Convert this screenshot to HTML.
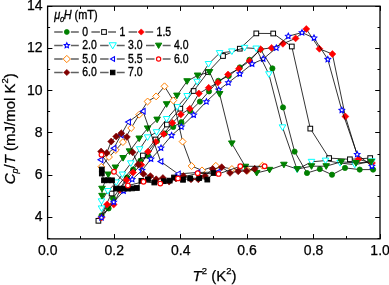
<!DOCTYPE html>
<html><head><meta charset="utf-8"><style>
html,body{margin:0;padding:0;background:#fff;}
body{width:389px;height:285px;overflow:hidden;position:relative;}
svg{position:absolute;left:0;top:0;will-change:transform;}
text{font-family:"Liberation Sans",sans-serif;fill:#000;stroke:#000;stroke-width:0.25px;}
.tk{font-size:14px;}
.ti{font-size:15px;}
.lg{font-size:11.9px;stroke-width:0.35px;}
</style></head><body>
<svg width="389" height="285" viewBox="0 0 389 285">
<rect width="389" height="285" fill="#fff"/>
<path d="M101.5 215.5L108.6 208.4L113.0 198.2L119.5 189.0L127.0 177.5L133.1 169.5L140.4 160.7L148.3 156.0L157.0 141.0L164.8 133.5L173.2 126.9L181.4 122.1L190.2 111.0L199.9 101.6L209.0 91.4L218.3 80.8L228.7 76.0L239.8 67.4L249.5 59.8L260.5 49.5L272.4 68.4L283.0 107.4L294.6 151.6L307.0 173.0L319.8 169.1L332.0 174.7L345.0 167.9L359.7 169.6L373.1 169.6" fill="none" stroke="#000" stroke-width="0.8"/>
<circle cx="101.50" cy="215.50" r="2.60" fill="#008000" stroke="#008000" stroke-width="0.8"/>
<circle cx="108.60" cy="208.40" r="2.60" fill="#008000" stroke="#008000" stroke-width="0.8"/>
<circle cx="113.00" cy="198.20" r="2.60" fill="#008000" stroke="#008000" stroke-width="0.8"/>
<circle cx="119.50" cy="189.00" r="2.60" fill="#008000" stroke="#008000" stroke-width="0.8"/>
<circle cx="127.00" cy="177.50" r="2.60" fill="#008000" stroke="#008000" stroke-width="0.8"/>
<circle cx="133.10" cy="169.50" r="2.60" fill="#008000" stroke="#008000" stroke-width="0.8"/>
<circle cx="140.40" cy="160.70" r="2.60" fill="#008000" stroke="#008000" stroke-width="0.8"/>
<circle cx="148.30" cy="156.00" r="2.60" fill="#008000" stroke="#008000" stroke-width="0.8"/>
<circle cx="157.00" cy="141.00" r="2.60" fill="#008000" stroke="#008000" stroke-width="0.8"/>
<circle cx="164.80" cy="133.50" r="2.60" fill="#008000" stroke="#008000" stroke-width="0.8"/>
<circle cx="173.20" cy="126.90" r="2.60" fill="#008000" stroke="#008000" stroke-width="0.8"/>
<circle cx="181.40" cy="122.10" r="2.60" fill="#008000" stroke="#008000" stroke-width="0.8"/>
<circle cx="190.20" cy="111.00" r="2.60" fill="#008000" stroke="#008000" stroke-width="0.8"/>
<circle cx="199.90" cy="101.60" r="2.60" fill="#008000" stroke="#008000" stroke-width="0.8"/>
<circle cx="209.00" cy="91.40" r="2.60" fill="#008000" stroke="#008000" stroke-width="0.8"/>
<circle cx="218.30" cy="80.80" r="2.60" fill="#008000" stroke="#008000" stroke-width="0.8"/>
<circle cx="228.70" cy="76.00" r="2.60" fill="#008000" stroke="#008000" stroke-width="0.8"/>
<circle cx="239.80" cy="67.40" r="2.60" fill="#008000" stroke="#008000" stroke-width="0.8"/>
<circle cx="249.50" cy="59.80" r="2.60" fill="#008000" stroke="#008000" stroke-width="0.8"/>
<circle cx="260.50" cy="49.50" r="2.60" fill="#008000" stroke="#008000" stroke-width="0.8"/>
<circle cx="272.40" cy="68.40" r="2.60" fill="#008000" stroke="#008000" stroke-width="0.8"/>
<circle cx="283.00" cy="107.40" r="2.60" fill="#008000" stroke="#008000" stroke-width="0.8"/>
<circle cx="294.60" cy="151.60" r="2.60" fill="#008000" stroke="#008000" stroke-width="0.8"/>
<circle cx="307.00" cy="173.00" r="2.60" fill="#008000" stroke="#008000" stroke-width="0.8"/>
<circle cx="319.80" cy="169.10" r="2.60" fill="#008000" stroke="#008000" stroke-width="0.8"/>
<circle cx="332.00" cy="174.70" r="2.60" fill="#008000" stroke="#008000" stroke-width="0.8"/>
<circle cx="345.00" cy="167.90" r="2.60" fill="#008000" stroke="#008000" stroke-width="0.8"/>
<circle cx="359.70" cy="169.60" r="2.60" fill="#008000" stroke="#008000" stroke-width="0.8"/>
<circle cx="373.10" cy="169.60" r="2.60" fill="#008000" stroke="#008000" stroke-width="0.8"/>
<path d="M98.4 220.8L111.6 193.5L142.9 155.5L155.5 139.5L166.9 124.5L180.3 108.7L193.6 91.0L208.0 72.0L223.0 56.0L239.8 48.7L256.3 33.4L273.2 33.5L291.8 46.5L310.3 128.6L329.1 158.1L349.9 159.3L370.2 158.1" fill="none" stroke="#000" stroke-width="0.8"/>
<rect x="96.05" y="218.45" width="4.70" height="4.70" fill="#fff" stroke="#000" stroke-width="1"/>
<rect x="109.25" y="191.15" width="4.70" height="4.70" fill="#fff" stroke="#000" stroke-width="1"/>
<rect x="140.55" y="153.15" width="4.70" height="4.70" fill="#fff" stroke="#000" stroke-width="1"/>
<rect x="153.15" y="137.15" width="4.70" height="4.70" fill="#fff" stroke="#000" stroke-width="1"/>
<rect x="164.55" y="122.15" width="4.70" height="4.70" fill="#fff" stroke="#000" stroke-width="1"/>
<rect x="177.95" y="106.35" width="4.70" height="4.70" fill="#fff" stroke="#000" stroke-width="1"/>
<rect x="191.25" y="88.65" width="4.70" height="4.70" fill="#fff" stroke="#000" stroke-width="1"/>
<rect x="205.65" y="69.65" width="4.70" height="4.70" fill="#fff" stroke="#000" stroke-width="1"/>
<rect x="220.65" y="53.65" width="4.70" height="4.70" fill="#fff" stroke="#000" stroke-width="1"/>
<rect x="237.45" y="46.35" width="4.70" height="4.70" fill="#fff" stroke="#000" stroke-width="1"/>
<rect x="253.95" y="31.05" width="4.70" height="4.70" fill="#fff" stroke="#000" stroke-width="1"/>
<rect x="270.85" y="31.15" width="4.70" height="4.70" fill="#fff" stroke="#000" stroke-width="1"/>
<rect x="289.45" y="44.15" width="4.70" height="4.70" fill="#fff" stroke="#000" stroke-width="1"/>
<rect x="307.95" y="126.25" width="4.70" height="4.70" fill="#fff" stroke="#000" stroke-width="1"/>
<rect x="326.75" y="155.75" width="4.70" height="4.70" fill="#fff" stroke="#000" stroke-width="1"/>
<rect x="347.55" y="156.95" width="4.70" height="4.70" fill="#fff" stroke="#000" stroke-width="1"/>
<rect x="367.85" y="155.75" width="4.70" height="4.70" fill="#fff" stroke="#000" stroke-width="1"/>
<path d="M101.5 217.6L107.1 204.5L113.7 204.5L120.0 190.0L126.6 180.0L133.1 172.5L141.3 164.8L148.0 151.6L155.8 141.9L163.7 134.0L172.4 122.9L180.8 114.5L189.8 108.7L198.9 93.5L208.7 87.8L217.8 82.6L228.0 74.5L238.9 68.8L249.5 61.0L260.5 49.2L271.6 47.9L282.9 43.8L295.6 38.4L306.3 29.0L319.4 48.8L332.4 54.0L345.4 116.5L358.5 159.3L372.0 163.0" fill="none" stroke="#000" stroke-width="0.8"/>
<path d="M101.50 214.15L104.95 217.60L101.50 221.05L98.05 217.60Z" fill="#ff0000" stroke="#ff0000" stroke-width="0.6"/>
<path d="M107.10 201.05L110.55 204.50L107.10 207.95L103.65 204.50Z" fill="#ff0000" stroke="#ff0000" stroke-width="0.6"/>
<path d="M113.70 201.05L117.15 204.50L113.70 207.95L110.25 204.50Z" fill="#ff0000" stroke="#ff0000" stroke-width="0.6"/>
<path d="M120.00 186.55L123.45 190.00L120.00 193.45L116.55 190.00Z" fill="#ff0000" stroke="#ff0000" stroke-width="0.6"/>
<path d="M126.60 176.55L130.05 180.00L126.60 183.45L123.15 180.00Z" fill="#ff0000" stroke="#ff0000" stroke-width="0.6"/>
<path d="M133.10 169.05L136.55 172.50L133.10 175.95L129.65 172.50Z" fill="#ff0000" stroke="#ff0000" stroke-width="0.6"/>
<path d="M141.30 161.35L144.75 164.80L141.30 168.25L137.85 164.80Z" fill="#ff0000" stroke="#ff0000" stroke-width="0.6"/>
<path d="M148.00 148.15L151.45 151.60L148.00 155.05L144.55 151.60Z" fill="#ff0000" stroke="#ff0000" stroke-width="0.6"/>
<path d="M155.80 138.45L159.25 141.90L155.80 145.35L152.35 141.90Z" fill="#ff0000" stroke="#ff0000" stroke-width="0.6"/>
<path d="M163.70 130.55L167.15 134.00L163.70 137.45L160.25 134.00Z" fill="#ff0000" stroke="#ff0000" stroke-width="0.6"/>
<path d="M172.40 119.45L175.85 122.90L172.40 126.35L168.95 122.90Z" fill="#ff0000" stroke="#ff0000" stroke-width="0.6"/>
<path d="M180.80 111.05L184.25 114.50L180.80 117.95L177.35 114.50Z" fill="#ff0000" stroke="#ff0000" stroke-width="0.6"/>
<path d="M189.80 105.25L193.25 108.70L189.80 112.15L186.35 108.70Z" fill="#ff0000" stroke="#ff0000" stroke-width="0.6"/>
<path d="M198.90 90.05L202.35 93.50L198.90 96.95L195.45 93.50Z" fill="#ff0000" stroke="#ff0000" stroke-width="0.6"/>
<path d="M208.70 84.35L212.15 87.80L208.70 91.25L205.25 87.80Z" fill="#ff0000" stroke="#ff0000" stroke-width="0.6"/>
<path d="M217.80 79.15L221.25 82.60L217.80 86.05L214.35 82.60Z" fill="#ff0000" stroke="#ff0000" stroke-width="0.6"/>
<path d="M228.00 71.05L231.45 74.50L228.00 77.95L224.55 74.50Z" fill="#ff0000" stroke="#ff0000" stroke-width="0.6"/>
<path d="M238.90 65.35L242.35 68.80L238.90 72.25L235.45 68.80Z" fill="#ff0000" stroke="#ff0000" stroke-width="0.6"/>
<path d="M249.50 57.55L252.95 61.00L249.50 64.45L246.05 61.00Z" fill="#ff0000" stroke="#ff0000" stroke-width="0.6"/>
<path d="M260.50 45.75L263.95 49.20L260.50 52.65L257.05 49.20Z" fill="#ff0000" stroke="#ff0000" stroke-width="0.6"/>
<path d="M271.60 44.45L275.05 47.90L271.60 51.35L268.15 47.90Z" fill="#ff0000" stroke="#ff0000" stroke-width="0.6"/>
<path d="M282.90 40.35L286.35 43.80L282.90 47.25L279.45 43.80Z" fill="#ff0000" stroke="#ff0000" stroke-width="0.6"/>
<path d="M295.60 34.95L299.05 38.40L295.60 41.85L292.15 38.40Z" fill="#ff0000" stroke="#ff0000" stroke-width="0.6"/>
<path d="M306.30 25.55L309.75 29.00L306.30 32.45L302.85 29.00Z" fill="#ff0000" stroke="#ff0000" stroke-width="0.6"/>
<path d="M319.40 45.35L322.85 48.80L319.40 52.25L315.95 48.80Z" fill="#ff0000" stroke="#ff0000" stroke-width="0.6"/>
<path d="M332.40 50.55L335.85 54.00L332.40 57.45L328.95 54.00Z" fill="#ff0000" stroke="#ff0000" stroke-width="0.6"/>
<path d="M345.40 113.05L348.85 116.50L345.40 119.95L341.95 116.50Z" fill="#ff0000" stroke="#ff0000" stroke-width="0.6"/>
<path d="M358.50 155.85L361.95 159.30L358.50 162.75L355.05 159.30Z" fill="#ff0000" stroke="#ff0000" stroke-width="0.6"/>
<path d="M372.00 159.55L375.45 163.00L372.00 166.45L368.55 163.00Z" fill="#ff0000" stroke="#ff0000" stroke-width="0.6"/>
<path d="M101.5 217.6L113.7 202.1L123.6 191.0L132.2 179.4L142.0 170.3L151.0 159.0L161.0 148.0L171.6 135.5L181.4 126.9L193.7 115.0L206.4 101.6L218.7 90.0L228.4 82.6L239.8 73.8L252.1 64.0L263.2 59.0L276.3 47.9L288.3 36.2L302.0 32.6L314.0 38.0L327.8 59.3L341.8 110.2L357.2 154.4L371.9 166.2" fill="none" stroke="#000" stroke-width="0.8"/>
<path d="M101.50 214.70L102.35 216.43L104.26 216.70L102.88 218.05L103.20 219.95L101.50 219.05L99.80 219.95L100.12 218.05L98.74 216.70L100.65 216.43Z" fill="#fff" stroke="#0000ff" stroke-width="1.1"/>
<path d="M113.70 199.20L114.55 200.93L116.46 201.20L115.08 202.55L115.40 204.45L113.70 203.55L112.00 204.45L112.32 202.55L110.94 201.20L112.85 200.93Z" fill="#fff" stroke="#0000ff" stroke-width="1.1"/>
<path d="M123.60 188.10L124.45 189.83L126.36 190.10L124.98 191.45L125.30 193.35L123.60 192.45L121.90 193.35L122.22 191.45L120.84 190.10L122.75 189.83Z" fill="#fff" stroke="#0000ff" stroke-width="1.1"/>
<path d="M132.20 176.50L133.05 178.23L134.96 178.50L133.58 179.85L133.90 181.75L132.20 180.85L130.50 181.75L130.82 179.85L129.44 178.50L131.35 178.23Z" fill="#fff" stroke="#0000ff" stroke-width="1.1"/>
<path d="M142.00 167.40L142.85 169.13L144.76 169.40L143.38 170.75L143.70 172.65L142.00 171.75L140.30 172.65L140.62 170.75L139.24 169.40L141.15 169.13Z" fill="#fff" stroke="#0000ff" stroke-width="1.1"/>
<path d="M151.00 156.10L151.85 157.83L153.76 158.10L152.38 159.45L152.70 161.35L151.00 160.45L149.30 161.35L149.62 159.45L148.24 158.10L150.15 157.83Z" fill="#fff" stroke="#0000ff" stroke-width="1.1"/>
<path d="M161.00 145.10L161.85 146.83L163.76 147.10L162.38 148.45L162.70 150.35L161.00 149.45L159.30 150.35L159.62 148.45L158.24 147.10L160.15 146.83Z" fill="#fff" stroke="#0000ff" stroke-width="1.1"/>
<path d="M171.60 132.60L172.45 134.33L174.36 134.60L172.98 135.95L173.30 137.85L171.60 136.95L169.90 137.85L170.22 135.95L168.84 134.60L170.75 134.33Z" fill="#fff" stroke="#0000ff" stroke-width="1.1"/>
<path d="M181.40 124.00L182.25 125.73L184.16 126.00L182.78 127.35L183.10 129.25L181.40 128.35L179.70 129.25L180.02 127.35L178.64 126.00L180.55 125.73Z" fill="#fff" stroke="#0000ff" stroke-width="1.1"/>
<path d="M193.70 112.10L194.55 113.83L196.46 114.10L195.08 115.45L195.40 117.35L193.70 116.45L192.00 117.35L192.32 115.45L190.94 114.10L192.85 113.83Z" fill="#fff" stroke="#0000ff" stroke-width="1.1"/>
<path d="M206.40 98.70L207.25 100.43L209.16 100.70L207.78 102.05L208.10 103.95L206.40 103.05L204.70 103.95L205.02 102.05L203.64 100.70L205.55 100.43Z" fill="#fff" stroke="#0000ff" stroke-width="1.1"/>
<path d="M218.70 87.10L219.55 88.83L221.46 89.10L220.08 90.45L220.40 92.35L218.70 91.45L217.00 92.35L217.32 90.45L215.94 89.10L217.85 88.83Z" fill="#fff" stroke="#0000ff" stroke-width="1.1"/>
<path d="M228.40 79.70L229.25 81.43L231.16 81.70L229.78 83.05L230.10 84.95L228.40 84.05L226.70 84.95L227.02 83.05L225.64 81.70L227.55 81.43Z" fill="#fff" stroke="#0000ff" stroke-width="1.1"/>
<path d="M239.80 70.90L240.65 72.63L242.56 72.90L241.18 74.25L241.50 76.15L239.80 75.25L238.10 76.15L238.42 74.25L237.04 72.90L238.95 72.63Z" fill="#fff" stroke="#0000ff" stroke-width="1.1"/>
<path d="M252.10 61.10L252.95 62.83L254.86 63.10L253.48 64.45L253.80 66.35L252.10 65.45L250.40 66.35L250.72 64.45L249.34 63.10L251.25 62.83Z" fill="#fff" stroke="#0000ff" stroke-width="1.1"/>
<path d="M263.20 56.10L264.05 57.83L265.96 58.10L264.58 59.45L264.90 61.35L263.20 60.45L261.50 61.35L261.82 59.45L260.44 58.10L262.35 57.83Z" fill="#fff" stroke="#0000ff" stroke-width="1.1"/>
<path d="M276.30 45.00L277.15 46.73L279.06 47.00L277.68 48.35L278.00 50.25L276.30 49.35L274.60 50.25L274.92 48.35L273.54 47.00L275.45 46.73Z" fill="#fff" stroke="#0000ff" stroke-width="1.1"/>
<path d="M288.30 33.30L289.15 35.03L291.06 35.30L289.68 36.65L290.00 38.55L288.30 37.65L286.60 38.55L286.92 36.65L285.54 35.30L287.45 35.03Z" fill="#fff" stroke="#0000ff" stroke-width="1.1"/>
<path d="M302.00 29.70L302.85 31.43L304.76 31.70L303.38 33.05L303.70 34.95L302.00 34.05L300.30 34.95L300.62 33.05L299.24 31.70L301.15 31.43Z" fill="#fff" stroke="#0000ff" stroke-width="1.1"/>
<path d="M314.00 35.10L314.85 36.83L316.76 37.10L315.38 38.45L315.70 40.35L314.00 39.45L312.30 40.35L312.62 38.45L311.24 37.10L313.15 36.83Z" fill="#fff" stroke="#0000ff" stroke-width="1.1"/>
<path d="M327.80 56.40L328.65 58.13L330.56 58.40L329.18 59.75L329.50 61.65L327.80 60.75L326.10 61.65L326.42 59.75L325.04 58.40L326.95 58.13Z" fill="#fff" stroke="#0000ff" stroke-width="1.1"/>
<path d="M341.80 107.30L342.65 109.03L344.56 109.30L343.18 110.65L343.50 112.55L341.80 111.65L340.10 112.55L340.42 110.65L339.04 109.30L340.95 109.03Z" fill="#fff" stroke="#0000ff" stroke-width="1.1"/>
<path d="M357.20 151.50L358.05 153.23L359.96 153.50L358.58 154.85L358.90 156.75L357.20 155.85L355.50 156.75L355.82 154.85L354.44 153.50L356.35 153.23Z" fill="#fff" stroke="#0000ff" stroke-width="1.1"/>
<path d="M371.90 163.30L372.75 165.03L374.66 165.30L373.28 166.65L373.60 168.55L371.90 167.65L370.20 168.55L370.52 166.65L369.14 165.30L371.05 165.03Z" fill="#fff" stroke="#0000ff" stroke-width="1.1"/>
<path d="M101.5 208.4L101.5 201.3L107.8 191.0L116.2 182.4L122.4 174.5L130.8 163.3L139.7 149.2L147.6 137.3L156.5 132.2L166.6 119.0L177.1 107.1L187.1 96.0L197.1 81.7L208.5 64.0L219.6 53.1L231.9 51.4L244.6 47.8L256.2 48.5L268.9 74.2L282.5 127.3L297.1 169.4L311.5 161.8L325.5 160.6L340.1 163.0L354.8 164.7L371.9 161.3" fill="none" stroke="#000" stroke-width="0.8"/>
<path d="M98.20 205.93L104.80 205.93L101.50 211.53Z" fill="#fff" stroke="#00ffff" stroke-width="1"/>
<path d="M98.20 198.83L104.80 198.83L101.50 204.44Z" fill="#fff" stroke="#00ffff" stroke-width="1"/>
<path d="M104.50 188.53L111.10 188.53L107.80 194.13Z" fill="#fff" stroke="#00ffff" stroke-width="1"/>
<path d="M112.90 179.93L119.50 179.93L116.20 185.53Z" fill="#fff" stroke="#00ffff" stroke-width="1"/>
<path d="M119.10 172.03L125.70 172.03L122.40 177.63Z" fill="#fff" stroke="#00ffff" stroke-width="1"/>
<path d="M127.50 160.83L134.10 160.83L130.80 166.44Z" fill="#fff" stroke="#00ffff" stroke-width="1"/>
<path d="M136.40 146.72L143.00 146.72L139.70 152.33Z" fill="#fff" stroke="#00ffff" stroke-width="1"/>
<path d="M144.30 134.83L150.90 134.83L147.60 140.44Z" fill="#fff" stroke="#00ffff" stroke-width="1"/>
<path d="M153.20 129.72L159.80 129.72L156.50 135.33Z" fill="#fff" stroke="#00ffff" stroke-width="1"/>
<path d="M163.30 116.53L169.90 116.53L166.60 122.14Z" fill="#fff" stroke="#00ffff" stroke-width="1"/>
<path d="M173.80 104.62L180.40 104.62L177.10 110.23Z" fill="#fff" stroke="#00ffff" stroke-width="1"/>
<path d="M183.80 93.53L190.40 93.53L187.10 99.14Z" fill="#fff" stroke="#00ffff" stroke-width="1"/>
<path d="M193.80 79.23L200.40 79.23L197.10 84.84Z" fill="#fff" stroke="#00ffff" stroke-width="1"/>
<path d="M205.20 61.52L211.80 61.52L208.50 67.14Z" fill="#fff" stroke="#00ffff" stroke-width="1"/>
<path d="M216.30 50.62L222.90 50.62L219.60 56.23Z" fill="#fff" stroke="#00ffff" stroke-width="1"/>
<path d="M228.60 48.92L235.20 48.92L231.90 54.53Z" fill="#fff" stroke="#00ffff" stroke-width="1"/>
<path d="M241.30 45.32L247.90 45.32L244.60 50.93Z" fill="#fff" stroke="#00ffff" stroke-width="1"/>
<path d="M252.90 46.02L259.50 46.02L256.20 51.63Z" fill="#fff" stroke="#00ffff" stroke-width="1"/>
<path d="M265.60 71.73L272.20 71.73L268.90 77.34Z" fill="#fff" stroke="#00ffff" stroke-width="1"/>
<path d="M279.20 124.83L285.80 124.83L282.50 130.44Z" fill="#fff" stroke="#00ffff" stroke-width="1"/>
<path d="M293.80 166.93L300.40 166.93L297.10 172.53Z" fill="#fff" stroke="#00ffff" stroke-width="1"/>
<path d="M308.20 159.33L314.80 159.33L311.50 164.94Z" fill="#fff" stroke="#00ffff" stroke-width="1"/>
<path d="M322.20 158.12L328.80 158.12L325.50 163.73Z" fill="#fff" stroke="#00ffff" stroke-width="1"/>
<path d="M336.80 160.53L343.40 160.53L340.10 166.13Z" fill="#fff" stroke="#00ffff" stroke-width="1"/>
<path d="M351.50 162.22L358.10 162.22L354.80 167.83Z" fill="#fff" stroke="#00ffff" stroke-width="1"/>
<path d="M368.60 158.83L375.20 158.83L371.90 164.44Z" fill="#fff" stroke="#00ffff" stroke-width="1"/>
<path d="M102.0 195.8L102.0 188.7L108.3 174.5L115.4 167.5L123.1 158.0L129.5 151.3L139.2 138.5L147.6 128.4L157.1 119.6L166.6 104.2L176.9 95.6L187.1 81.2L197.6 75.5L209.5 72.0L219.6 94.0L231.8 143.4L245.4 166.7L256.7 172.9L269.5 169.8L283.9 164.7L297.3 169.1L311.5 166.2L326.2 166.2L341.3 161.8L356.0 163.0L371.2 161.8" fill="none" stroke="#000" stroke-width="0.8"/>
<path d="M98.70 193.33L105.30 193.33L102.00 198.94Z" fill="#008000" stroke="#008000" stroke-width="1"/>
<path d="M98.70 186.22L105.30 186.22L102.00 191.83Z" fill="#008000" stroke="#008000" stroke-width="1"/>
<path d="M105.00 172.03L111.60 172.03L108.30 177.63Z" fill="#008000" stroke="#008000" stroke-width="1"/>
<path d="M112.10 165.03L118.70 165.03L115.40 170.63Z" fill="#008000" stroke="#008000" stroke-width="1"/>
<path d="M119.80 155.53L126.40 155.53L123.10 161.13Z" fill="#008000" stroke="#008000" stroke-width="1"/>
<path d="M126.20 148.83L132.80 148.83L129.50 154.44Z" fill="#008000" stroke="#008000" stroke-width="1"/>
<path d="M135.90 136.03L142.50 136.03L139.20 141.63Z" fill="#008000" stroke="#008000" stroke-width="1"/>
<path d="M144.30 125.93L150.90 125.93L147.60 131.53Z" fill="#008000" stroke="#008000" stroke-width="1"/>
<path d="M153.80 117.12L160.40 117.12L157.10 122.73Z" fill="#008000" stroke="#008000" stroke-width="1"/>
<path d="M163.30 101.73L169.90 101.73L166.60 107.34Z" fill="#008000" stroke="#008000" stroke-width="1"/>
<path d="M173.60 93.12L180.20 93.12L176.90 98.73Z" fill="#008000" stroke="#008000" stroke-width="1"/>
<path d="M183.80 78.73L190.40 78.73L187.10 84.34Z" fill="#008000" stroke="#008000" stroke-width="1"/>
<path d="M194.30 73.03L200.90 73.03L197.60 78.64Z" fill="#008000" stroke="#008000" stroke-width="1"/>
<path d="M206.20 69.53L212.80 69.53L209.50 75.14Z" fill="#008000" stroke="#008000" stroke-width="1"/>
<path d="M216.30 91.53L222.90 91.53L219.60 97.14Z" fill="#008000" stroke="#008000" stroke-width="1"/>
<path d="M228.50 140.93L235.10 140.93L231.80 146.53Z" fill="#008000" stroke="#008000" stroke-width="1"/>
<path d="M242.10 164.22L248.70 164.22L245.40 169.83Z" fill="#008000" stroke="#008000" stroke-width="1"/>
<path d="M253.40 170.43L260.00 170.43L256.70 176.03Z" fill="#008000" stroke="#008000" stroke-width="1"/>
<path d="M266.20 167.33L272.80 167.33L269.50 172.94Z" fill="#008000" stroke="#008000" stroke-width="1"/>
<path d="M280.60 162.22L287.20 162.22L283.90 167.83Z" fill="#008000" stroke="#008000" stroke-width="1"/>
<path d="M294.00 166.62L300.60 166.62L297.30 172.23Z" fill="#008000" stroke="#008000" stroke-width="1"/>
<path d="M308.20 163.72L314.80 163.72L311.50 169.33Z" fill="#008000" stroke="#008000" stroke-width="1"/>
<path d="M322.90 163.72L329.50 163.72L326.20 169.33Z" fill="#008000" stroke="#008000" stroke-width="1"/>
<path d="M338.00 159.33L344.60 159.33L341.30 164.94Z" fill="#008000" stroke="#008000" stroke-width="1"/>
<path d="M352.70 160.53L359.30 160.53L356.00 166.13Z" fill="#008000" stroke="#008000" stroke-width="1"/>
<path d="M367.90 159.33L374.50 159.33L371.20 164.94Z" fill="#008000" stroke="#008000" stroke-width="1"/>
<path d="M101.3 166.8L109.0 157.0L115.8 150.0L122.9 142.1L131.2 128.0L139.2 114.7L147.6 101.5L156.1 96.4L164.5 86.3L173.3 100.5L182.6 141.6L191.6 166.0L202.0 170.4L215.8 165.8L231.9 169.0L247.5 170.5L262.5 165.7" fill="none" stroke="#000" stroke-width="0.8"/>
<path d="M101.30 163.35L104.75 166.80L101.30 170.25L97.85 166.80Z" fill="#fff" stroke="#ff8000" stroke-width="1"/>
<path d="M109.00 153.55L112.45 157.00L109.00 160.45L105.55 157.00Z" fill="#fff" stroke="#ff8000" stroke-width="1"/>
<path d="M115.80 146.55L119.25 150.00L115.80 153.45L112.35 150.00Z" fill="#fff" stroke="#ff8000" stroke-width="1"/>
<path d="M122.90 138.65L126.35 142.10L122.90 145.55L119.45 142.10Z" fill="#fff" stroke="#ff8000" stroke-width="1"/>
<path d="M131.20 124.55L134.65 128.00L131.20 131.45L127.75 128.00Z" fill="#fff" stroke="#ff8000" stroke-width="1"/>
<path d="M139.20 111.25L142.65 114.70L139.20 118.15L135.75 114.70Z" fill="#fff" stroke="#ff8000" stroke-width="1"/>
<path d="M147.60 98.05L151.05 101.50L147.60 104.95L144.15 101.50Z" fill="#fff" stroke="#ff8000" stroke-width="1"/>
<path d="M156.10 92.95L159.55 96.40L156.10 99.85L152.65 96.40Z" fill="#fff" stroke="#ff8000" stroke-width="1"/>
<path d="M164.50 82.85L167.95 86.30L164.50 89.75L161.05 86.30Z" fill="#fff" stroke="#ff8000" stroke-width="1"/>
<path d="M173.30 97.05L176.75 100.50L173.30 103.95L169.85 100.50Z" fill="#fff" stroke="#ff8000" stroke-width="1"/>
<path d="M182.60 138.15L186.05 141.60L182.60 145.05L179.15 141.60Z" fill="#fff" stroke="#ff8000" stroke-width="1"/>
<path d="M191.60 162.55L195.05 166.00L191.60 169.45L188.15 166.00Z" fill="#fff" stroke="#ff8000" stroke-width="1"/>
<path d="M202.00 166.95L205.45 170.40L202.00 173.85L198.55 170.40Z" fill="#fff" stroke="#ff8000" stroke-width="1"/>
<path d="M215.80 162.35L219.25 165.80L215.80 169.25L212.35 165.80Z" fill="#fff" stroke="#ff8000" stroke-width="1"/>
<path d="M231.90 165.55L235.35 169.00L231.90 172.45L228.45 169.00Z" fill="#fff" stroke="#ff8000" stroke-width="1"/>
<path d="M247.50 167.05L250.95 170.50L247.50 173.95L244.05 170.50Z" fill="#fff" stroke="#ff8000" stroke-width="1"/>
<path d="M262.50 162.25L265.95 165.70L262.50 169.15L259.05 165.70Z" fill="#fff" stroke="#ff8000" stroke-width="1"/>
<path d="M100.7 159.8L113.8 148.2L121.0 135.0L128.3 122.1L143.0 111.2L160.7 161.5L178.1 173.9L197.7 172.5L218.0 172.0" fill="none" stroke="#000" stroke-width="0.8"/>
<path d="M102.80 157.00L102.80 162.60L98.04 159.80Z" fill="#fff" stroke="#0000ff" stroke-width="1.1"/>
<path d="M115.90 145.40L115.90 151.00L111.14 148.20Z" fill="#fff" stroke="#0000ff" stroke-width="1.1"/>
<path d="M123.10 132.20L123.10 137.80L118.34 135.00Z" fill="#fff" stroke="#0000ff" stroke-width="1.1"/>
<path d="M130.40 119.30L130.40 124.90L125.64 122.10Z" fill="#fff" stroke="#0000ff" stroke-width="1.1"/>
<path d="M145.10 108.40L145.10 114.00L140.34 111.20Z" fill="#fff" stroke="#0000ff" stroke-width="1.1"/>
<path d="M162.80 158.70L162.80 164.30L158.04 161.50Z" fill="#fff" stroke="#0000ff" stroke-width="1.1"/>
<path d="M180.20 171.10L180.20 176.70L175.44 173.90Z" fill="#fff" stroke="#0000ff" stroke-width="1.1"/>
<path d="M199.80 169.70L199.80 175.30L195.04 172.50Z" fill="#fff" stroke="#0000ff" stroke-width="1.1"/>
<path d="M220.10 169.20L220.10 174.80L215.34 172.00Z" fill="#fff" stroke="#0000ff" stroke-width="1.1"/>
<path d="M101.1 151.5L106.7 153.0L111.2 141.5L116.2 136.5L121.3 133.2L126.9 137.0L132.6 152.3L138.2 164.5L143.4 173.9L150.4 176.1L156.2 179.3L162.9 178.0L169.1 181.6L176.0 178.5L183.4 176.0L191.0 179.3L198.3 179.3L205.0 176.0L212.7 169.0L221.7 167.2L230.0 172.9L238.2 171.3L246.5 170.9L254.7 168.8" fill="none" stroke="#000" stroke-width="0.8"/>
<path d="M101.10 148.05L104.55 151.50L101.10 154.95L97.65 151.50Z" fill="#800000" stroke="#800000" stroke-width="0.6"/>
<path d="M106.70 149.55L110.15 153.00L106.70 156.45L103.25 153.00Z" fill="#800000" stroke="#800000" stroke-width="0.6"/>
<path d="M111.20 138.05L114.65 141.50L111.20 144.95L107.75 141.50Z" fill="#800000" stroke="#800000" stroke-width="0.6"/>
<path d="M116.20 133.05L119.65 136.50L116.20 139.95L112.75 136.50Z" fill="#800000" stroke="#800000" stroke-width="0.6"/>
<path d="M121.30 129.75L124.75 133.20L121.30 136.65L117.85 133.20Z" fill="#800000" stroke="#800000" stroke-width="0.6"/>
<path d="M126.90 133.55L130.35 137.00L126.90 140.45L123.45 137.00Z" fill="#800000" stroke="#800000" stroke-width="0.6"/>
<path d="M132.60 148.85L136.05 152.30L132.60 155.75L129.15 152.30Z" fill="#800000" stroke="#800000" stroke-width="0.6"/>
<path d="M138.20 161.05L141.65 164.50L138.20 167.95L134.75 164.50Z" fill="#800000" stroke="#800000" stroke-width="0.6"/>
<path d="M143.40 170.45L146.85 173.90L143.40 177.35L139.95 173.90Z" fill="#800000" stroke="#800000" stroke-width="0.6"/>
<path d="M150.40 172.65L153.85 176.10L150.40 179.55L146.95 176.10Z" fill="#800000" stroke="#800000" stroke-width="0.6"/>
<path d="M156.20 175.85L159.65 179.30L156.20 182.75L152.75 179.30Z" fill="#800000" stroke="#800000" stroke-width="0.6"/>
<path d="M162.90 174.55L166.35 178.00L162.90 181.45L159.45 178.00Z" fill="#800000" stroke="#800000" stroke-width="0.6"/>
<path d="M169.10 178.15L172.55 181.60L169.10 185.05L165.65 181.60Z" fill="#800000" stroke="#800000" stroke-width="0.6"/>
<path d="M176.00 175.05L179.45 178.50L176.00 181.95L172.55 178.50Z" fill="#800000" stroke="#800000" stroke-width="0.6"/>
<path d="M183.40 172.55L186.85 176.00L183.40 179.45L179.95 176.00Z" fill="#800000" stroke="#800000" stroke-width="0.6"/>
<path d="M191.00 175.85L194.45 179.30L191.00 182.75L187.55 179.30Z" fill="#800000" stroke="#800000" stroke-width="0.6"/>
<path d="M198.30 175.85L201.75 179.30L198.30 182.75L194.85 179.30Z" fill="#800000" stroke="#800000" stroke-width="0.6"/>
<path d="M205.00 172.55L208.45 176.00L205.00 179.45L201.55 176.00Z" fill="#800000" stroke="#800000" stroke-width="0.6"/>
<path d="M212.70 165.55L216.15 169.00L212.70 172.45L209.25 169.00Z" fill="#800000" stroke="#800000" stroke-width="0.6"/>
<path d="M221.70 163.75L225.15 167.20L221.70 170.65L218.25 167.20Z" fill="#800000" stroke="#800000" stroke-width="0.6"/>
<path d="M230.00 169.45L233.45 172.90L230.00 176.35L226.55 172.90Z" fill="#800000" stroke="#800000" stroke-width="0.6"/>
<path d="M238.20 167.85L241.65 171.30L238.20 174.75L234.75 171.30Z" fill="#800000" stroke="#800000" stroke-width="0.6"/>
<path d="M246.50 167.45L249.95 170.90L246.50 174.35L243.05 170.90Z" fill="#800000" stroke="#800000" stroke-width="0.6"/>
<path d="M254.70 165.35L258.15 168.80L254.70 172.25L251.25 168.80Z" fill="#800000" stroke="#800000" stroke-width="0.6"/>
<path d="M101.8 169.5L101.8 173.5L104.0 180.3L108.0 180.3L112.0 180.3L116.0 188.6L120.0 188.6L124.0 188.6L128.0 188.6L132.0 188.4L136.9 188.0L141.4 180.8L147.9 179.3L154.3 182.5L163.9 181.2L169.7 180.6L174.0 177.5L183.0 179.8L190.2 178.4L199.2 178.0L207.3 179.6L213.6 173.0" fill="none" stroke="#000" stroke-width="0.8"/>
<rect x="99.45" y="167.15" width="4.70" height="4.70" fill="#000" stroke="#000" stroke-width="1"/>
<rect x="99.45" y="171.15" width="4.70" height="4.70" fill="#000" stroke="#000" stroke-width="1"/>
<rect x="101.65" y="177.95" width="4.70" height="4.70" fill="#000" stroke="#000" stroke-width="1"/>
<rect x="105.65" y="177.95" width="4.70" height="4.70" fill="#000" stroke="#000" stroke-width="1"/>
<rect x="109.65" y="177.95" width="4.70" height="4.70" fill="#000" stroke="#000" stroke-width="1"/>
<rect x="113.65" y="186.25" width="4.70" height="4.70" fill="#000" stroke="#000" stroke-width="1"/>
<rect x="117.65" y="186.25" width="4.70" height="4.70" fill="#000" stroke="#000" stroke-width="1"/>
<rect x="121.65" y="186.25" width="4.70" height="4.70" fill="#000" stroke="#000" stroke-width="1"/>
<rect x="125.65" y="186.25" width="4.70" height="4.70" fill="#000" stroke="#000" stroke-width="1"/>
<rect x="129.65" y="186.05" width="4.70" height="4.70" fill="#000" stroke="#000" stroke-width="1"/>
<rect x="134.55" y="185.65" width="4.70" height="4.70" fill="#000" stroke="#000" stroke-width="1"/>
<rect x="139.05" y="178.45" width="4.70" height="4.70" fill="#000" stroke="#000" stroke-width="1"/>
<rect x="145.55" y="176.95" width="4.70" height="4.70" fill="#000" stroke="#000" stroke-width="1"/>
<rect x="151.95" y="180.15" width="4.70" height="4.70" fill="#000" stroke="#000" stroke-width="1"/>
<rect x="161.55" y="178.85" width="4.70" height="4.70" fill="#000" stroke="#000" stroke-width="1"/>
<rect x="167.35" y="178.25" width="4.70" height="4.70" fill="#000" stroke="#000" stroke-width="1"/>
<rect x="171.65" y="175.15" width="4.70" height="4.70" fill="#000" stroke="#000" stroke-width="1"/>
<rect x="180.65" y="177.45" width="4.70" height="4.70" fill="#000" stroke="#000" stroke-width="1"/>
<rect x="187.85" y="176.05" width="4.70" height="4.70" fill="#000" stroke="#000" stroke-width="1"/>
<rect x="196.85" y="175.65" width="4.70" height="4.70" fill="#000" stroke="#000" stroke-width="1"/>
<rect x="204.95" y="177.25" width="4.70" height="4.70" fill="#000" stroke="#000" stroke-width="1"/>
<rect x="211.25" y="170.65" width="4.70" height="4.70" fill="#000" stroke="#000" stroke-width="1"/>
<path d="M101.5 154.8L114.0 171.7L127.9 185.5L143.5 181.8L160.3 183.6L178.0 178.4L197.7 173.3L218.6 173.9L240.3 166.3L264.6 166.3" fill="none" stroke="#000" stroke-width="0.8"/>
<circle cx="101.50" cy="154.80" r="2.35" fill="#fff" stroke="#ff0000" stroke-width="1.2"/>
<circle cx="114.00" cy="171.70" r="2.35" fill="#fff" stroke="#ff0000" stroke-width="1.2"/>
<circle cx="127.90" cy="185.50" r="2.35" fill="#fff" stroke="#ff0000" stroke-width="1.2"/>
<circle cx="143.50" cy="181.80" r="2.35" fill="#fff" stroke="#ff0000" stroke-width="1.2"/>
<circle cx="160.30" cy="183.60" r="2.35" fill="#fff" stroke="#ff0000" stroke-width="1.2"/>
<circle cx="178.00" cy="178.40" r="2.35" fill="#fff" stroke="#ff0000" stroke-width="1.2"/>
<circle cx="197.70" cy="173.30" r="2.35" fill="#fff" stroke="#ff0000" stroke-width="1.2"/>
<circle cx="218.60" cy="173.90" r="2.35" fill="#fff" stroke="#ff0000" stroke-width="1.2"/>
<circle cx="240.30" cy="166.30" r="2.35" fill="#fff" stroke="#ff0000" stroke-width="1.2"/>
<circle cx="264.60" cy="166.30" r="2.35" fill="#fff" stroke="#ff0000" stroke-width="1.2"/>
<path d="M47.6 6.1H380.0V238.85H47.6Z" fill="none" stroke="#000" stroke-width="1.3"/>
<line x1="47.5" y1="238.85" x2="47.5" y2="234.04999999999998" stroke="#000" stroke-width="1"/>
<line x1="47.5" y1="6.1" x2="47.5" y2="10.899999999999999" stroke="#000" stroke-width="1"/>
<line x1="80.5" y1="238.85" x2="80.5" y2="236.04999999999998" stroke="#000" stroke-width="1"/>
<line x1="80.5" y1="6.1" x2="80.5" y2="8.899999999999999" stroke="#000" stroke-width="1"/>
<line x1="114.5" y1="238.85" x2="114.5" y2="234.04999999999998" stroke="#000" stroke-width="1"/>
<line x1="114.5" y1="6.1" x2="114.5" y2="10.899999999999999" stroke="#000" stroke-width="1"/>
<line x1="147.5" y1="238.85" x2="147.5" y2="236.04999999999998" stroke="#000" stroke-width="1"/>
<line x1="147.5" y1="6.1" x2="147.5" y2="8.899999999999999" stroke="#000" stroke-width="1"/>
<line x1="180.5" y1="238.85" x2="180.5" y2="234.04999999999998" stroke="#000" stroke-width="1"/>
<line x1="180.5" y1="6.1" x2="180.5" y2="10.899999999999999" stroke="#000" stroke-width="1"/>
<line x1="213.5" y1="238.85" x2="213.5" y2="236.04999999999998" stroke="#000" stroke-width="1"/>
<line x1="213.5" y1="6.1" x2="213.5" y2="8.899999999999999" stroke="#000" stroke-width="1"/>
<line x1="247.5" y1="238.85" x2="247.5" y2="234.04999999999998" stroke="#000" stroke-width="1"/>
<line x1="247.5" y1="6.1" x2="247.5" y2="10.899999999999999" stroke="#000" stroke-width="1"/>
<line x1="280.5" y1="238.85" x2="280.5" y2="236.04999999999998" stroke="#000" stroke-width="1"/>
<line x1="280.5" y1="6.1" x2="280.5" y2="8.899999999999999" stroke="#000" stroke-width="1"/>
<line x1="313.5" y1="238.85" x2="313.5" y2="234.04999999999998" stroke="#000" stroke-width="1"/>
<line x1="313.5" y1="6.1" x2="313.5" y2="10.899999999999999" stroke="#000" stroke-width="1"/>
<line x1="346.5" y1="238.85" x2="346.5" y2="236.04999999999998" stroke="#000" stroke-width="1"/>
<line x1="346.5" y1="6.1" x2="346.5" y2="8.899999999999999" stroke="#000" stroke-width="1"/>
<line x1="380.5" y1="238.85" x2="380.5" y2="234.04999999999998" stroke="#000" stroke-width="1"/>
<line x1="380.5" y1="6.1" x2="380.5" y2="10.899999999999999" stroke="#000" stroke-width="1"/>
<line x1="47.6" y1="238.5" x2="50.1" y2="238.5" stroke="#000" stroke-width="1"/>
<line x1="380.0" y1="238.5" x2="377.5" y2="238.5" stroke="#000" stroke-width="1"/>
<line x1="47.6" y1="217.5" x2="52.4" y2="217.5" stroke="#000" stroke-width="1"/>
<line x1="380.0" y1="217.5" x2="375.2" y2="217.5" stroke="#000" stroke-width="1"/>
<line x1="47.6" y1="196.5" x2="50.1" y2="196.5" stroke="#000" stroke-width="1"/>
<line x1="380.0" y1="196.5" x2="377.5" y2="196.5" stroke="#000" stroke-width="1"/>
<line x1="47.6" y1="175.5" x2="52.4" y2="175.5" stroke="#000" stroke-width="1"/>
<line x1="380.0" y1="175.5" x2="375.2" y2="175.5" stroke="#000" stroke-width="1"/>
<line x1="47.6" y1="154.5" x2="50.1" y2="154.5" stroke="#000" stroke-width="1"/>
<line x1="380.0" y1="154.5" x2="377.5" y2="154.5" stroke="#000" stroke-width="1"/>
<line x1="47.6" y1="132.5" x2="52.4" y2="132.5" stroke="#000" stroke-width="1"/>
<line x1="380.0" y1="132.5" x2="375.2" y2="132.5" stroke="#000" stroke-width="1"/>
<line x1="47.6" y1="111.5" x2="50.1" y2="111.5" stroke="#000" stroke-width="1"/>
<line x1="380.0" y1="111.5" x2="377.5" y2="111.5" stroke="#000" stroke-width="1"/>
<line x1="47.6" y1="90.5" x2="52.4" y2="90.5" stroke="#000" stroke-width="1"/>
<line x1="380.0" y1="90.5" x2="375.2" y2="90.5" stroke="#000" stroke-width="1"/>
<line x1="47.6" y1="69.5" x2="50.1" y2="69.5" stroke="#000" stroke-width="1"/>
<line x1="380.0" y1="69.5" x2="377.5" y2="69.5" stroke="#000" stroke-width="1"/>
<line x1="47.6" y1="48.5" x2="52.4" y2="48.5" stroke="#000" stroke-width="1"/>
<line x1="380.0" y1="48.5" x2="375.2" y2="48.5" stroke="#000" stroke-width="1"/>
<line x1="47.6" y1="27.5" x2="50.1" y2="27.5" stroke="#000" stroke-width="1"/>
<line x1="380.0" y1="27.5" x2="377.5" y2="27.5" stroke="#000" stroke-width="1"/>
<line x1="47.6" y1="6.5" x2="52.4" y2="6.5" stroke="#000" stroke-width="1"/>
<line x1="380.0" y1="6.5" x2="375.2" y2="6.5" stroke="#000" stroke-width="1"/>
<text x="47.7" y="255" text-anchor="middle" class="tk">0.0</text>
<text x="114.2" y="255" text-anchor="middle" class="tk">0.2</text>
<text x="180.7" y="255" text-anchor="middle" class="tk">0.4</text>
<text x="247.1" y="255" text-anchor="middle" class="tk">0.6</text>
<text x="313.6" y="255" text-anchor="middle" class="tk">0.8</text>
<text x="380.1" y="255" text-anchor="middle" class="tk">1.0</text>
<text x="42.6" y="221.4" text-anchor="end" class="tk">4</text>
<text x="42.6" y="179.2" text-anchor="end" class="tk">6</text>
<text x="42.6" y="136.9" text-anchor="end" class="tk">8</text>
<text x="42.6" y="94.7" text-anchor="end" class="tk">10</text>
<text x="42.6" y="52.4" text-anchor="end" class="tk">12</text>
<text x="42.6" y="10.2" text-anchor="end" class="tk">14</text>
<text transform="translate(54.3,18.9) scale(0.92,1)" class="lg"><tspan font-style="italic">&#956;</tspan><tspan font-style="italic" font-size="8" dy="2.8" dx="-0.3">0</tspan><tspan font-style="italic" dy="-2.8" dx="-0.5">H</tspan> (mT)</text>
<path d="M54.2 32.0H62.7M70.9 32.0H78.8" stroke="#606060" stroke-width="1.4"/>
<circle cx="66.80" cy="32.00" r="2.47" fill="#008000" stroke="#008000" stroke-width="0.8"/>
<text transform="translate(82.2,35.8) scale(0.877,1)" class="lg">0</text>
<path d="M91.4 32.0H99.9M108.1 32.0H116.0" stroke="#606060" stroke-width="1.4"/>
<rect x="101.65" y="29.65" width="4.70" height="4.70" fill="#fff" stroke="#000" stroke-width="1"/>
<text transform="translate(119.4,35.8) scale(0.877,1)" class="lg">1</text>
<path d="M128.6 32.0H137.1M145.3 32.0H153.2" stroke="#606060" stroke-width="1.4"/>
<path d="M141.21 28.89L144.31 32.00L141.21 35.11L138.10 32.00Z" fill="#ff0000" stroke="#ff0000" stroke-width="0.6"/>
<text transform="translate(156.6,35.8) scale(0.877,1)" class="lg">1.5</text>
<path d="M54.2 45.5H62.7M70.9 45.5H78.8" stroke="#606060" stroke-width="1.4"/>
<path d="M66.80 42.74L67.61 44.39L69.42 44.65L68.11 45.93L68.42 47.73L66.80 46.88L65.18 47.73L65.49 45.93L64.18 44.65L65.99 44.39Z" fill="#fff" stroke="#0000ff" stroke-width="1.1"/>
<text transform="translate(82.2,49.3) scale(0.877,1)" class="lg">2.0</text>
<path d="M100.1 45.5H108.6M116.8 45.5H124.7" stroke="#606060" stroke-width="1.4"/>
<path d="M109.08 42.78L116.34 42.78L112.71 48.95Z" fill="#fff" stroke="#00ffff" stroke-width="1"/>
<text transform="translate(128.1,49.3) scale(0.877,1)" class="lg">3.0</text>
<path d="M146.0 45.5H154.5M162.7 45.5H170.6" stroke="#606060" stroke-width="1.4"/>
<path d="M155.48 43.15L161.75 43.15L158.61 48.48Z" fill="#008000" stroke="#008000" stroke-width="1"/>
<text transform="translate(174.0,49.3) scale(0.877,1)" class="lg">4.0</text>
<path d="M54.2 59.0H62.7M70.9 59.0H78.8" stroke="#606060" stroke-width="1.4"/>
<path d="M66.80 55.38L70.42 59.00L66.80 62.62L63.18 59.00Z" fill="#fff" stroke="#ff8000" stroke-width="1"/>
<text transform="translate(82.2,62.8) scale(0.877,1)" class="lg">5.0</text>
<path d="M100.1 59.0H108.6M116.8 59.0H124.7" stroke="#606060" stroke-width="1.4"/>
<path d="M114.49 56.62L114.49 61.38L110.45 59.00Z" fill="#fff" stroke="#0000ff" stroke-width="1.1"/>
<text transform="translate(128.1,62.8) scale(0.877,1)" class="lg">5.5</text>
<path d="M146.0 59.0H154.5M162.7 59.0H170.6" stroke="#606060" stroke-width="1.4"/>
<circle cx="158.61" cy="59.00" r="2.12" fill="#fff" stroke="#ff0000" stroke-width="1.2"/>
<text transform="translate(174.0,62.8) scale(0.877,1)" class="lg">6.0</text>
<path d="M54.2 72.5H62.7M70.9 72.5H78.8" stroke="#606060" stroke-width="1.4"/>
<path d="M66.80 69.39L69.91 72.50L66.80 75.61L63.69 72.50Z" fill="#800000" stroke="#800000" stroke-width="0.6"/>
<text transform="translate(82.2,76.3) scale(0.877,1)" class="lg">6.0</text>
<path d="M100.1 72.5H108.6M116.8 72.5H124.7" stroke="#606060" stroke-width="1.4"/>
<rect x="110.47" y="70.27" width="4.46" height="4.46" fill="#000" stroke="#000" stroke-width="1"/>
<text transform="translate(128.1,76.3) scale(0.877,1)" class="lg">7.0</text>
<text class="ti" x="192.5" y="280.8"><tspan font-style="italic">T</tspan><tspan font-size="9.5" dy="-7.3">2</tspan><tspan dy="7.3"> (K</tspan><tspan font-size="9.5" dy="-7.3">2</tspan><tspan dy="7.3">)</tspan></text>
<text class="ti" transform="translate(14.8,184.3) rotate(-90)" x="0" y="0"><tspan font-style="italic">C</tspan><tspan font-style="italic" font-size="9" dy="3">p</tspan><tspan dy="-3">/</tspan><tspan font-style="italic">T</tspan> (mJ/mol K<tspan font-size="9.5" dy="-7.3">2</tspan><tspan dy="7.3">)</tspan></text>
</svg>
</body></html>
